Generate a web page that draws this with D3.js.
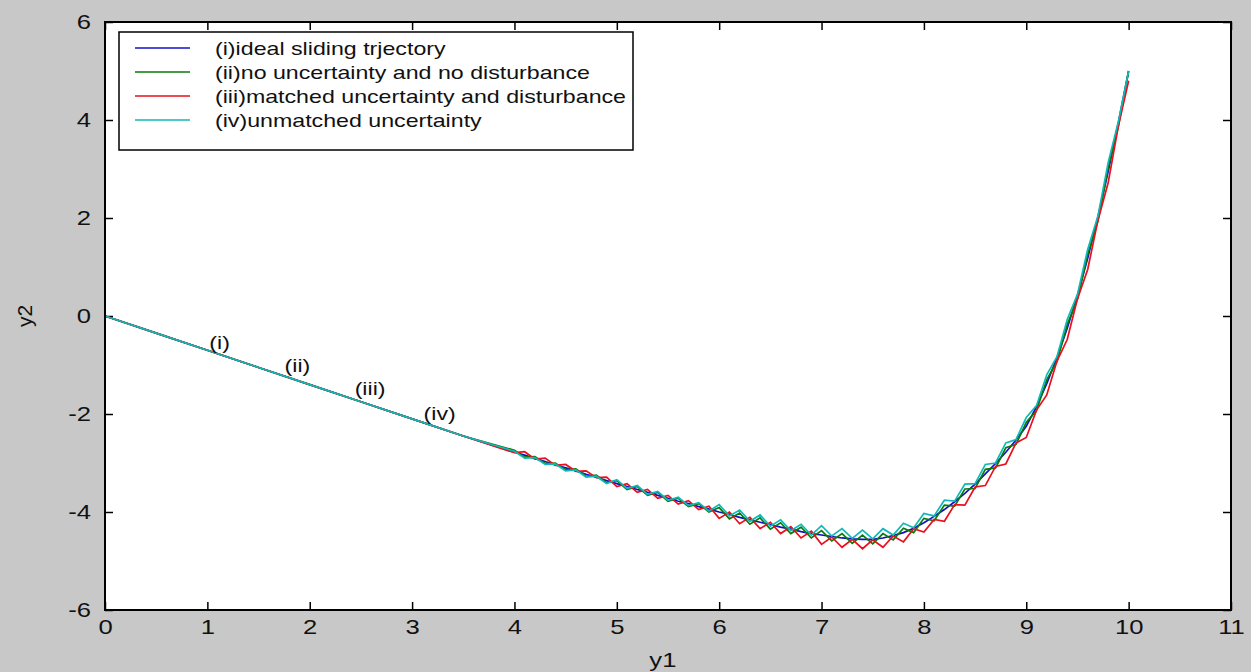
<!DOCTYPE html>
<html>
<head>
<meta charset="utf-8">
<script src="https://cdn.jsdelivr.net/npm/d3@7"></script>
<style>
  body { margin: 0; background: #c8c8c8; }
  text { font-family: "Liberation Sans", Arial, sans-serif; fill: #111; }
</style>
</head>
<body>
<div id="Area"></div>
<script>
var W = 1251, H = 672;
var margin = { top: 22, right: 20, bottom: 62, left: 105 },
  width = W - margin.left - margin.right,
  height = H - margin.top - margin.bottom;

// y1 grid shared by all trajectories
var y1Grid = [0, 0.5, 1, 1.5, 2, 2.5, 3, 3.5,
  4.0, 4.1, 4.2, 4.3, 4.4, 4.5, 4.6, 4.7, 4.8, 4.9,
  5.0, 5.1, 5.2, 5.3, 5.4, 5.5, 5.6, 5.7, 5.8, 5.9,
  6.0, 6.1, 6.2, 6.3, 6.4, 6.5, 6.6, 6.7, 6.8, 6.9,
  7.0, 7.1, 7.2, 7.3, 7.4, 7.5, 7.6, 7.7, 7.8, 7.9,
  8.0, 8.1, 8.2, 8.3, 8.4, 8.5, 8.6, 8.7, 8.8, 8.9,
  9.0, 9.1, 9.2, 9.3, 9.4, 9.5, 9.6, 9.7, 9.8, 9.9, 10.0];

// (i) ideal sliding trajectory
var idealY2 = [0, -0.35, -0.7, -1.05, -1.4, -1.75, -2.1, -2.45,
  -2.78, -2.84, -2.91, -2.97, -3.04, -3.10, -3.16, -3.23, -3.29, -3.36,
  -3.42, -3.48, -3.54, -3.60, -3.66, -3.72, -3.78, -3.83, -3.89, -3.94,
  -4.00, -4.05, -4.11, -4.16, -4.21, -4.26, -4.31, -4.35, -4.40, -4.44,
  -4.47, -4.50, -4.53, -4.55, -4.56, -4.56, -4.53, -4.48, -4.42, -4.33,
  -4.22, -4.09, -3.95, -3.79, -3.62, -3.43, -3.22, -3.01, -2.78, -2.53,
  -2.25, -1.85, -1.38, -0.85, -0.25, 0.42, 1.18, 2.02, 2.95, 3.95, 5.00];

// (ii) no uncertainty and no disturbance
var noUncY2 = [0, -0.35, -0.7, -1.05, -1.4, -1.75, -2.1, -2.45,
  -2.74, -2.88, -2.87, -3.01, -3.00, -3.14, -3.12, -3.27, -3.25, -3.40,
  -3.36, -3.54, -3.48, -3.66, -3.60, -3.78, -3.72, -3.89, -3.83, -4.00,
  -3.91, -4.14, -4.02, -4.25, -4.12, -4.35, -4.22, -4.44, -4.31, -4.53,
  -4.38, -4.59, -4.44, -4.64, -4.47, -4.65, -4.44, -4.57, -4.33, -4.42,
  -4.13, -4.18, -3.86, -3.88, -3.53, -3.52, -3.13, -3.10, -2.69, -2.62,
  -2.17, -1.93, -1.30, -0.93, -0.17, 0.34, 1.26, 1.94, 3.03, 3.87, 5.00];

// (iii) matched uncertainty and disturbance
var matchedY2 = [0, -0.35, -0.7, -1.05, -1.4, -1.75, -2.1, -2.45,
  -2.79, -2.77, -2.92, -2.90, -3.05, -3.03, -3.17, -3.16, -3.30, -3.29,
  -3.48, -3.42, -3.60, -3.54, -3.72, -3.66, -3.84, -3.77, -3.95, -3.88,
  -4.13, -4.00, -4.24, -4.11, -4.34, -4.21, -4.44, -4.30, -4.53, -4.39,
  -4.66, -4.51, -4.72, -4.56, -4.75, -4.57, -4.72, -4.49, -4.61, -4.34,
  -4.41, -4.15, -4.19, -3.85, -3.86, -3.49, -3.46, -3.07, -3.02, -2.59,
  -2.48, -1.92, -1.61, -0.92, -0.48, 0.35, 0.95, 1.95, 2.72, 3.88, 4.80];

// (iv) unmatched uncertainty
var unmatchedY2 = [0, -0.35, -0.7, -1.05, -1.4, -1.75, -2.1, -2.45,
  -2.76, -2.90, -2.89, -3.03, -3.02, -3.16, -3.14, -3.29, -3.27, -3.42,
  -3.34, -3.52, -3.46, -3.64, -3.58, -3.76, -3.70, -3.87, -3.81, -3.98,
  -3.85, -4.08, -3.96, -4.19, -4.06, -4.29, -4.16, -4.38, -4.25, -4.47,
  -4.28, -4.49, -4.34, -4.54, -4.37, -4.55, -4.34, -4.47, -4.23, -4.32,
  -4.03, -4.08, -3.76, -3.78, -3.43, -3.42, -3.03, -3.00, -2.59, -2.52,
  -2.07, -1.83, -1.20, -0.83, -0.07, 0.44, 1.36, 2.04, 3.13, 3.97, 5.00];

var seriesNames = ["(i)ideal sliding trjectory",
  "(ii)no uncertainty and no disturbance",
  "(iii)matched uncertainty and disturbance",
  "(iv)unmatched uncertainty"];
var seriesValues = [idealY2, noUncY2, matchedY2, unmatchedY2];
var seriesColors = ["#1010c8", "#0a7a0a", "#e8101c", "#10b8b8"];

var tagLabels = ["(i)", "(ii)", "(iii)", "(iv)"];
var tagY1 = [1.12, 1.88, 2.59, 3.27];
var tagY2 = [-0.53, -1.0, -1.47, -1.98];

var xTicks = [0, 1, 2, 3, 4, 5, 6, 7, 8, 9, 10, 11];
var yTicks = [-6, -4, -2, 0, 2, 4, 6];

// the source picture is stretched sideways, so widen glyphs to match
var stretch = 1.22;
function widen(sel) {
  sel.each(function () {
    var len = this.getComputedTextLength();
    d3.select(this).attr("textLength", len * stretch).attr("lengthAdjust", "spacingAndGlyphs");
  });
}

var svg = d3.select("#Area").append("svg")
  .attr("width", W)
  .attr("height", H)
  .style("display", "block");

svg.append("rect").attr("width", W).attr("height", H).attr("fill", "#c8c8c8");

var g = svg.append("g")
  .attr("transform", "translate(" + margin.left + "," + margin.top + ")");

var x = d3.scaleLinear().domain([0, 11]).range([0, width]);
var y = d3.scaleLinear().domain([-6, 6]).range([height, 0]);

g.append("rect")
  .attr("width", width).attr("height", height)
  .attr("fill", "#fff");

// axes with inward ticks on all sides
var fmt = function (d) { return String(d); };
g.append("g").attr("transform", "translate(0," + height + ")")
  .call(d3.axisBottom(x).tickValues(xTicks).tickFormat(fmt).tickSizeInner(-8).tickSizeOuter(0).tickPadding(9));
g.append("g")
  .call(d3.axisLeft(y).tickValues(yTicks).tickFormat(fmt).tickSizeInner(-8).tickSizeOuter(0).tickPadding(14));
g.append("g")
  .call(d3.axisTop(x).tickValues(xTicks).tickSizeInner(-8).tickSizeOuter(0).tickFormat(""));
g.append("g").attr("transform", "translate(" + width + ",0)")
  .call(d3.axisRight(y).tickValues(yTicks).tickSizeInner(-8).tickSizeOuter(0).tickFormat(""));

g.selectAll(".tick line").attr("stroke", "#000").attr("stroke-width", 1.5);
g.selectAll(".domain").attr("stroke", "none");
g.selectAll(".tick text")
  .style("font-size", "21px")
  .style("font-family", "Liberation Sans, Arial, sans-serif")
  .attr("fill", "#111")
  .call(widen);

// lines
var line = d3.line()
  .x(function (d, i) { return x(y1Grid[i]); })
  .y(function (d) { return y(d); });

seriesValues.forEach(function (vals, k) {
  g.append("path")
    .datum(vals)
    .attr("d", line)
    .attr("fill", "none")
    .attr("stroke", seriesColors[k])
    .attr("stroke-width", 1.7);
});

// annotation tags
g.selectAll("text.tag")
  .data(tagLabels)
  .enter().append("text")
  .attr("class", "tag")
  .attr("x", function (d, i) { return x(tagY1[i]); })
  .attr("y", function (d, i) { return y(tagY2[i]); })
  .attr("dy", "0.35em")
  .attr("text-anchor", "middle")
  .style("font-size", "19px")
  .text(function (d) { return d; })
  .call(widen);

// frame
g.append("rect")
  .attr("width", width).attr("height", height)
  .attr("fill", "none").attr("stroke", "#000").attr("stroke-width", 2);

// legend
var lg = g.append("g").attr("transform", "translate(14,10)");
lg.append("rect")
  .attr("width", 514).attr("height", 118)
  .attr("fill", "#fff").attr("stroke", "#000").attr("stroke-width", 1.5);
seriesNames.forEach(function (name, k) {
  var yy = 16 + k * 24;
  lg.append("line")
    .attr("x1", 16).attr("x2", 71).attr("y1", yy).attr("y2", yy)
    .attr("stroke", seriesColors[k]).attr("stroke-width", 1.7);
  lg.append("text")
    .attr("x", 96).attr("y", yy).attr("dy", "0.35em")
    .style("font-size", "19px")
    .text(name)
    .call(widen);
});

// axis labels
svg.append("text")
  .attr("x", margin.left + x(5.45)).attr("y", 667)
  .attr("text-anchor", "middle")
  .style("font-size", "21px")
  .text("y1")
  .call(widen);
svg.append("text")
  .attr("transform", "translate(32," + (margin.top + y(0)) + ") rotate(-90)")
  .attr("text-anchor", "middle")
  .style("font-size", "21px")
  .text("y2");
</script>
</body>
</html>
